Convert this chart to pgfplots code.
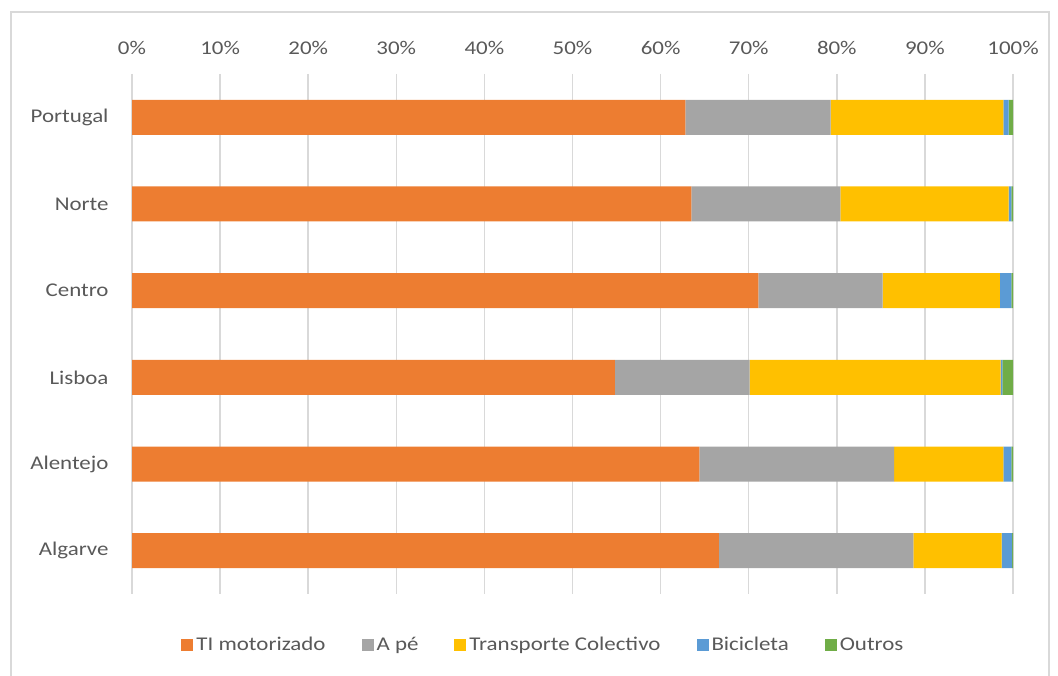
\documentclass[border=0pt]{standalone}
\usepackage{pgfplots}
\pgfplotsset{compat=1.18}
\usepackage{fontspec}
\setmainfont{Carlito}[FakeStretch=1.18]
\definecolor{cOr}{HTML}{ED7D31}
\definecolor{cGr}{HTML}{A5A5A5}
\definecolor{cYe}{HTML}{FFC000}
\definecolor{cBl}{HTML}{5B9BD5}
\definecolor{cGn}{HTML}{70AD47}
\definecolor{txt}{HTML}{595959}
\definecolor{grd}{HTML}{D9D9D9}
\begin{document}
\begin{tikzpicture}[x=1bp,y=1bp]
\path[use as bounding box] (0,0) rectangle (1058,676);
\draw[grd, line width=1.2bp] (11,-5) rectangle (1049,664);
\begin{axis}[
  at={(132bp,82bp)}, anchor=south west,
  width=881bp, height=520bp, scale only axis,
  xbar stacked, bar width=35bp,
  xmin=0, xmax=100, ymin=-0.5, ymax=5.5, y dir=reverse,
  xtick={0,10,...,100},
  xticklabel={\pgfmathprintnumber{\tick}\%},
  xticklabel pos=upper,
  ytick={0,1,2,3,4,5},
  yticklabels={Portugal,Norte,Centro,Lisboa,Alentejo,Algarve},
  axis line style={draw=none},
  major tick length=0pt,
  xmajorgrids, major grid style={grd, line width=1.5bp},
  ymajorgrids=false,
  tick label style={font=\fontsize{19.5}{22}\selectfont, text=txt},
  /pgf/number format/assume math mode=true,
  xticklabel style={yshift=16bp},
  yticklabel style={xshift=-20bp},
  legend style={draw=none, at={(0.467,-0.098)}, anchor=center,
    legend columns=5, font=\fontsize{19.5}{22}\selectfont, text=txt,
    /tikz/every odd column/.append style={column sep=1bp},
    /tikz/every even column/.append style={column sep=34bp}},
  legend image code/.code={\fill[#1] (0bp,-6bp) rectangle (12bp,6bp);},
  clip=false,
]
\addplot[fill=cOr, draw=none] coordinates {(62.8,0) (63.5,1) (71.1,2) (54.8,3) (64.4,4) (66.6,5)};
\addplot[fill=cGr, draw=none] coordinates {(16.5,0) (16.9,1) (14.1,2) (15.3,3) (22.1,4) (22.1,5)};
\addplot[fill=cYe, draw=none] coordinates {(19.6,0) (19.1,1) (13.3,2) (28.5,3) (12.4,4) (10.0,5)};
\addplot[fill=cBl, draw=none] coordinates {(0.6,0) (0.3,1) (1.3,2) (0.2,3) (0.9,4) (1.2,5)};
\addplot[fill=cGn, draw=none] coordinates {(0.5,0) (0.2,1) (0.2,2) (1.2,3) (0.2,4) (0.1,5)};
\legend{TI motorizado, A pé, Transporte Colectivo, Bicicleta, Outros}
\end{axis}
\end{tikzpicture}
\end{document}
